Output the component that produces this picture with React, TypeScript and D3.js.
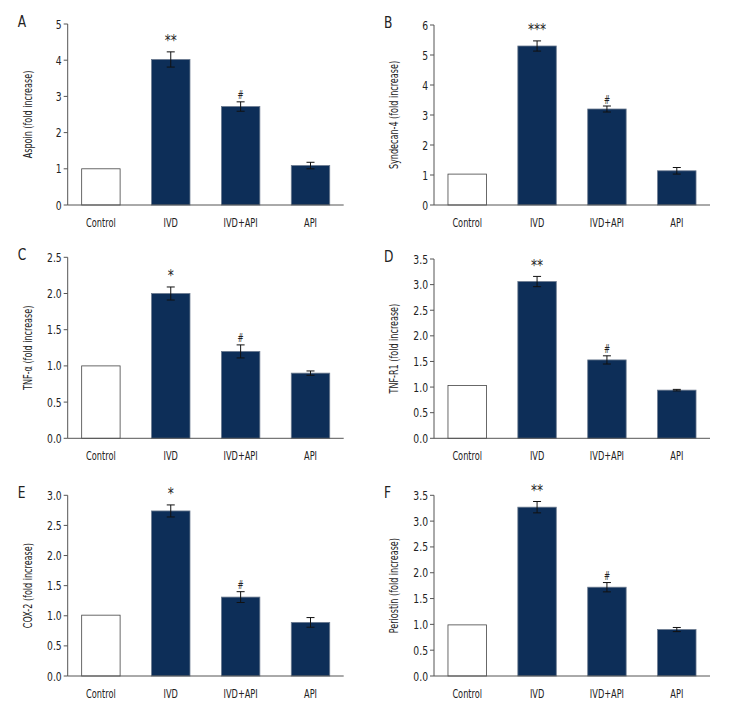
import React from "react";
import * as d3 from "d3";

const categories = ["Control", "IVD", "IVD+API", "API"];

const panelLetters = ["A", "B", "C", "D", "E", "F"];
const yLabels = [
  "Aspoin (fold increase)",
  "Syndecan-4 (fold increase)",
  "TNF-α (fold increase)",
  "TNF-R1 (fold increase)",
  "COX-2 (fold increase)",
  "Periostin (fold increase)",
];
const yMaxes = [5, 6, 2.5, 3.5, 3.0, 3.5];
const tickSteps = [1, 1, 0.5, 0.5, 0.5, 0.5];
const tickFormats = ["d", "d", ".1f", ".1f", ".1f", ".1f"];

const meansA = [1.0, 4.02, 2.72, 1.09];
const meansB = [1.03, 5.3, 3.2, 1.14];
const meansC = [1.0, 2.0, 1.2, 0.9];
const meansD = [1.03, 3.06, 1.53, 0.94];
const meansE = [1.01, 2.74, 1.31, 0.89];
const meansF = [0.99, 3.27, 1.72, 0.9];
const means = [meansA, meansB, meansC, meansD, meansE, meansF];

const errA = [0, 0.21, 0.13, 0.09];
const errB = [0, 0.17, 0.1, 0.11];
const errC = [0, 0.09, 0.09, 0.03];
const errD = [0, 0.1, 0.08, 0.015];
const errE = [0, 0.1, 0.09, 0.08];
const errF = [0, 0.11, 0.09, 0.04];
const errors = [errA, errB, errC, errD, errE, errF];

const marksA = ["", "**", "#", ""];
const marksB = ["", "***", "#", ""];
const marksC = ["", "*", "#", ""];
const marksD = ["", "**", "#", ""];
const marksE = ["", "*", "#", ""];
const marksF = ["", "**", "#", ""];
const marks = [marksA, marksB, marksC, marksD, marksE, marksF];

// layout
const colX = [67.7, 434];
const rowTop = [[24, 25], [257.3, 259], [495.3, 495.3]];
const rowBottom = [205, 438.3, 676];
const axisWidth = 276;
const barColor = "#0d2e58";
const axisColor = "#555";
const textColor = "#222";
const FONT = "'Liberation Sans Narrow', 'DejaVu Sans Condensed', 'DejaVu Sans', sans-serif";

function T({
  x,
  y,
  sx = 0.8,
  rot = 0,
  anchor = "middle",
  size,
  dy,
  children,
}: {
  x: number;
  y: number;
  sx?: number;
  rot?: number;
  anchor?: string;
  size: number;
  dy?: string;
  children: React.ReactNode;
}) {
  return (
    <text
      transform={`translate(${x},${y})${rot ? ` rotate(${rot})` : ""} scale(${sx},1)`}
      textAnchor={anchor}
      fontSize={size}
      dy={dy}
      fill={textColor}
    >
      {children}
    </text>
  );
}

function Panel({ i }: { i: number }) {
  const col = i % 2;
  const row = Math.floor(i / 2);
  const x0 = colX[col];
  const top = rowTop[row][col];
  const bottom = rowBottom[row];
  const yMax = yMaxes[i];
  const y = d3.scaleLinear().domain([0, yMax]).range([bottom, top]);
  const x = d3
    .scaleBand<string>()
    .domain(categories)
    .range([x0, x0 + axisWidth])
    .paddingInner(0.45)
    .paddingOuter(0.2);
  const ticks = d3.range(0, yMax + tickSteps[i] / 2, tickSteps[i]);
  const fmt = d3.format(tickFormats[i]);
  const bw = x.bandwidth();
  const vals = means[i];
  const errs = errors[i];
  return (
    <g>
      <T x={x0 - 50} y={top + 3} anchor="start" size={16} sx={0.85}>
        {panelLetters[i]}
      </T>
      <T x={x0 - 36} y={(top + bottom) / 2} rot={-90} size={11.5} sx={0.78}>
        {yLabels[i]}
      </T>
      {categories.map((c, k) => {
        const v = vals[k];
        const e = errs[k];
        const cx = (x(c) as number) + bw / 2;
        const yTop = y(v);
        const m = marks[i][k];
        return (
          <g key={c}>
            <rect
              x={x(c)}
              y={yTop}
              width={bw}
              height={bottom - yTop}
              fill={k === 0 ? "#fff" : barColor}
              stroke={k === 0 ? "#444" : "#6b7a8f"}
              strokeWidth={0.8}
            />
            {e > 0 && (
              <g stroke="#111" strokeWidth={1}>
                <line x1={cx} x2={cx} y1={y(v + e)} y2={y(v - e)} />
                <line x1={cx - 4} x2={cx + 4} y1={y(v + e)} y2={y(v + e)} />
                <line x1={cx - 4} x2={cx + 4} y1={y(v - e)} y2={y(v - e)} />
              </g>
            )}
            {m && (
              <T
                x={cx}
                y={y(v + e) - (m === "#" ? 2.5 : 5.5)}
                size={m === "#" ? 13 : 15}
                sx={m === "#" ? 0.62 : 0.9}
              >
                {m}
              </T>
            )}
            <T x={cx} y={bottom + 22} size={12} sx={0.76}>
              {c}
            </T>
          </g>
        );
      })}
      <line x1={x0} x2={x0} y1={top} y2={bottom} stroke={axisColor} strokeWidth={1} />
      <line x1={x0} x2={x0 + axisWidth} y1={bottom} y2={bottom} stroke={axisColor} strokeWidth={1} />
      {ticks.map((t) => (
        <g key={t}>
          <line x1={x0 - 4} x2={x0} y1={y(t)} y2={y(t)} stroke={axisColor} strokeWidth={1} />
          <T x={x0 - 6} y={y(t)} dy="0.36em" anchor="end" size={12.5} sx={0.82}>
            {fmt(t)}
          </T>
        </g>
      ))}
    </g>
  );
}

export default function App() {
  return (
    <svg
      width={732}
      height={720}
      style={{ position: "absolute", left: 0, top: 0, background: "#fff", fontStretch: "condensed" }}
      fontFamily={FONT}
    >
      <rect width={732} height={720} fill="#fff" />
      {panelLetters.map((_, i) => (
        <Panel key={i} i={i} />
      ))}
    </svg>
  );
}
